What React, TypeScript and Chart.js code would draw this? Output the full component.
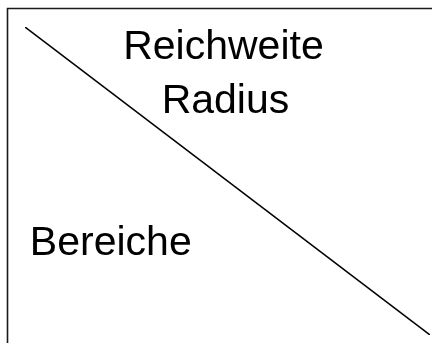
import React, { useEffect, useRef } from "react";
import { Chart, registerables } from "chart.js";

Chart.register(...registerables);

// Diagonal divider of the header cell (data space 0..1)
const dividerX: number[] = [0, 1];
const dividerY: number[] = [1, 0];

// Header texts
const columnHeader: string[] = ["Reichweite", "Radius"];
const rowHeader: string[] = ["Bereiche"];

const cellPlugin = {
  id: "cellPlugin",
  beforeDatasetsDraw(chart: any) {
    const { ctx, chartArea, width, height } = chart;
    ctx.save();
    ctx.strokeStyle = "#1a1a1a";
    ctx.lineWidth = 1.6;
    ctx.beginPath();
    const bx = chartArea.left - 17.5;
    const by = chartArea.top - 18.5;
    ctx.moveTo(bx, height + 2);
    ctx.lineTo(bx, by);
    ctx.lineTo(width + 2, by);
    ctx.stroke();
    ctx.restore();
  },
  afterDatasetsDraw(chart: any) {
    const { ctx, scales } = chart;
    const xs = scales.x;
    const ys = scales.y;
    ctx.save();
    ctx.fillStyle = "#000";
    ctx.font = '41px "Liberation Sans", Arial, sans-serif';
    ctx.textBaseline = "alphabetic";
    // column header, centered in the upper right triangle
    ctx.textAlign = "center";
    const colX = xs.getPixelForValue(0.49);
    const colY0 = ys.getPixelForValue(0.896);
    const lineH = ys.getPixelForValue(0.721) - colY0;
    columnHeader.forEach((t, i) => {
      ctx.fillText(t, colX + (i === 1 ? 2 : 0), colY0 + i * lineH);
    });
    // row header, lower left
    ctx.textAlign = "left";
    const rowX = xs.getPixelForValue(0.012);
    const rowY = ys.getPixelForValue(0.26);
    rowHeader.forEach((t, i) => ctx.fillText(t, rowX, rowY + i * lineH));
    ctx.restore();
  },
};

export default function App() {
  const ref = useRef<HTMLCanvasElement>(null);
  useEffect(() => {
    if (!ref.current) return;
    const chart = new Chart(ref.current, {
      type: "line",
      data: {
        datasets: [
          {
            data: dividerX.map((x, i) => ({ x, y: dividerY[i] })),
            borderColor: "#000",
            borderWidth: 1.5,
            pointRadius: 0,
            fill: false,
            tension: 0,
          },
        ],
      },
      options: {
        animation: false,
        responsive: false,
        layout: { padding: { left: 25, top: 27, right: 2, bottom: 8 } },
        plugins: {
          legend: { display: false },
          tooltip: { enabled: false },
          title: { display: false },
        },
        scales: {
          x: { type: "linear", min: 0, max: 1, display: false },
          y: { type: "linear", min: 0, max: 1, display: false },
        },
      },
      plugins: [cellPlugin],
    });
    return () => chart.destroy();
  }, []);
  return (
    <div style={{ position: "fixed", left: 0, top: 0, width: 432, height: 343, background: "#fff" }}>
      <canvas ref={ref} width={432} height={343} style={{ display: "block" }} />
    </div>
  );
}
